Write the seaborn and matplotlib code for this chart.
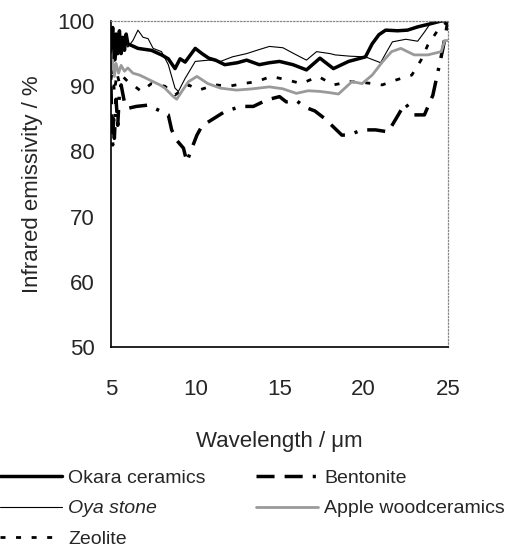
import matplotlib
matplotlib.use("Agg")
import matplotlib.pyplot as plt
import seaborn as sns
import pandas as pd

# ---- data ----
okara_x = [5.0, 5.1, 5.2, 5.3, 5.4, 5.5, 5.6, 5.7, 5.8, 5.9, 6.0, 6.6, 7.4, 8.0, 8.4, 8.8, 9.1, 9.4, 10.0,
           10.4, 10.8, 11.2, 11.75, 12.5, 13.05, 13.8, 14.4, 15.0, 15.8, 16.6, 17.4, 18.2, 19.1, 20.1,
           20.5, 20.9, 21.3, 22.0, 22.6, 23.2, 24.0, 24.6, 25.0]
okara_y = [96, 99, 94, 98, 95, 98.5, 95, 97.5, 95.5, 98, 96.5, 95.8, 95.5, 94.8, 94.2, 92.7, 94.2, 93.7, 95.8,
           95.0, 94.3, 94.0, 93.3, 93.6, 94.0, 93.3, 93.6, 93.8, 93.3, 92.5, 94.3, 92.7, 93.8, 94.5,
           96.5, 97.9, 98.6, 98.5, 98.6, 99.1, 99.6, 100, 100]

oya_x = [5.0, 5.15, 5.3, 5.45, 5.6, 5.8, 6.0, 6.3, 6.6, 6.9, 7.2, 7.5, 8.0, 8.4, 8.8, 9.0, 9.4, 10.0, 10.8,
         11.5, 12.2, 13.05, 13.65, 14.4, 15.2, 16.0, 16.6, 17.2, 18.0, 18.3, 19.2, 20.1, 20.6, 21.0,
         21.3, 21.7, 22.5, 23.2, 23.6, 24.0, 24.5, 25.0]
oya_y = [95, 98, 94, 97.5, 95.5, 97, 96, 97, 98.6, 97.5, 97.3, 95.8, 95.3, 93.3, 89.7, 89.2, 91.2, 93.8, 94.0,
         93.8, 94.5, 95.0, 95.5, 96.1, 95.9, 94.8, 94.0, 95.3, 95.0, 94.8, 94.6, 94.5, 94.0, 93.6,
         95.0, 96.8, 97.2, 96.9, 98.3, 99.8, 100, 100]

zeolite_x = [5.0, 5.1, 5.2, 5.35, 5.5, 5.7, 6.0, 6.4, 6.8, 7.4, 8.2, 8.8, 9.6, 10.2, 11.2, 12.0, 12.85,
             13.65, 14.5, 15.4, 16.3, 17.3, 18.2, 19.2, 20.2, 21.1, 21.85, 22.85, 23.4, 23.8, 24.4,
             24.8, 25.0]
zeolite_y = [91, 93, 89, 92, 90.5, 91.5, 90.7, 90.0, 89.2, 90.4, 90.0, 88.65, 90.2, 89.4, 90.2, 90.0, 90.4,
             90.7, 91.5, 91.0, 90.4, 91.5, 90.2, 90.7, 90.5, 90.2, 90.9, 91.7, 94.0, 96.3, 98.6,
             99.5, 100]

bentonite_x = [5.0, 5.05, 5.1, 5.15, 5.2, 5.3, 5.4, 5.5, 5.6, 5.8, 6.0, 6.5, 7.2, 7.6, 8.0, 8.4, 8.6, 8.9,
               9.3, 9.5, 9.8, 10.1, 10.4, 10.95, 11.75, 12.7, 13.45, 14.25, 15.0, 15.4, 16.0, 16.5,
               17.1, 17.7, 18.3, 18.7, 19.1, 19.9, 20.7, 21.45, 22.05, 22.45, 23.0, 23.6, 24.1, 24.4,
               24.7, 25.0]
bentonite_y = [90, 84, 81, 85, 82, 88, 84, 89, 90.2, 87.5, 86.6, 86.9, 87.1, 86.6, 86.1, 85.6, 83.3, 81.7,
               80.5, 78.4, 80.5, 82.5, 83.9, 84.8, 86.1, 86.9, 86.9, 87.9, 88.4, 87.6, 87.8, 86.8,
               86.2, 85.0, 83.5, 82.5, 82.5, 83.3, 83.3, 83.0, 85.6, 87.4, 85.6, 85.6, 88.6, 92.2,
               95.8, 100]

apple_x = [5.0, 5.1, 5.2, 5.3, 5.45, 5.6, 5.8, 6.0, 6.3, 6.7, 7.1, 7.5, 7.9, 8.2, 8.7, 8.9, 9.2, 9.6, 10.1,
           10.75, 11.5, 12.45, 13.4, 14.4, 15.2, 16.0, 16.7, 17.4, 18.0, 18.5, 19.3, 19.9, 20.5, 21.1,
           21.65, 22.2, 23.0, 23.8, 24.6, 24.8, 25.0]
apple_y = [92.5, 94, 91.5, 93.5, 92, 93.2, 92.3, 92.8, 92.0, 91.7, 91.2, 90.7, 90.2, 89.7, 88.4, 88.0, 89.2,
           90.7, 91.5, 90.4, 89.7, 89.4, 89.6, 89.9, 89.6, 88.9, 89.3, 89.2, 89.0, 88.8, 90.7, 90.4,
           91.7, 93.7, 95.3, 95.8, 94.8, 94.8, 95.3, 97.0, 97.0]

x_ticks = [5, 10, 15, 20, 25]
y_ticks = [50, 60, 70, 80, 90, 100]
x_label = "Wavelength / μm"
y_label = "Infrared emissivity / %"

# ---- styling ----
sns.set_style("white")
plt.rcParams["font.family"] = ["Liberation Sans", "DejaVu Sans"]

fig = plt.figure(figsize=(5.08, 5.53), dpi=100)
ax = fig.add_axes([111 / 508, 1 - 347 / 553, (448 - 111) / 508, (347 - 21) / 553])

series = [
    ("Okara ceramics", okara_x, okara_y, dict(color="black", lw=2.5, linestyle="-")),
    ("Oya stone", oya_x, oya_y, dict(color="black", lw=0.8, linestyle="-")),
    ("Zeolite", zeolite_x, zeolite_y, dict(color="black", lw=2.0, linestyle=(0, (1.8, 3.8)))),
    ("Bentonite", bentonite_x, bentonite_y,
     dict(color="black", lw=2.5, linestyle=(0, (5.2, 2.9, 5.2, 2.9, 0.9, 2.9)))),
    ("Apple woodceramics", apple_x, apple_y, dict(color="#9a9a9a", lw=2.0, linestyle="-")),
]

handles = []
labels = []
for name, xs, ys, kw in series:
    df = pd.DataFrame({"x": xs, "y": ys})
    sns.lineplot(data=df, x="x", y="y", ax=ax, legend=False, sort=False, **kw)
    handles.append(ax.lines[-1])
    labels.append(name)

ax.set_xlim(5, 25)
ax.set_ylim(50, 100)
ax.set_xticks(x_ticks)
ax.set_yticks(y_ticks)
ax.set_xticklabels([str(v) for v in x_ticks])
ax.set_yticklabels([str(v) for v in y_ticks])
ax.tick_params(axis="x", direction="in", length=5, width=0.8, pad=23, labelsize=16, top=False)
ax.tick_params(axis="y", direction="in", length=6, width=0.8, pad=12, labelsize=16, right=False)
ax.set_xlabel(x_label, fontsize=16, labelpad=22)
ax.set_ylabel(y_label, fontsize=16, labelpad=10)

for s in ["left", "bottom"]:
    ax.spines[s].set_color("black")
    ax.spines[s].set_linewidth(1.2)
for s in ["top", "right"]:
    ax.spines[s].set_color("#888888")
    ax.spines[s].set_linewidth(0.9)
    ax.spines[s].set_linestyle(":")

leg = fig.legend(handles, labels, loc="upper left", bbox_to_anchor=(0.0, 0.152), ncol=2,
                 frameon=False, fontsize=14, handlelength=3.2, handletextpad=0.3,
                 columnspacing=2.6, labelspacing=0.68, borderpad=0, borderaxespad=0)
for t in leg.get_texts():
    if t.get_text() == "Oya stone":
        t.set_style("italic")

fig.savefig("out.png", dpi=100)
